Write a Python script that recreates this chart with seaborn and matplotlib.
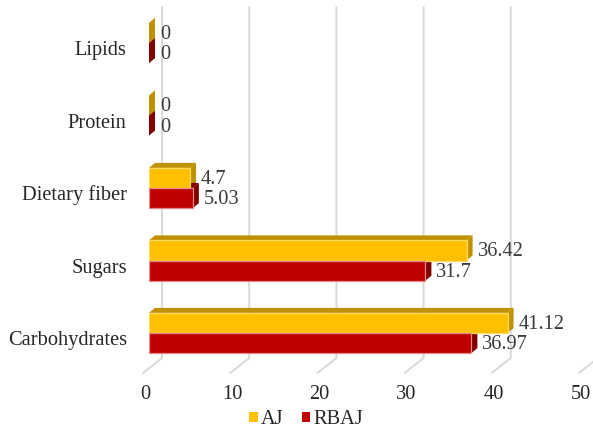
import matplotlib
matplotlib.use("Agg")
import matplotlib.pyplot as plt
import seaborn as sns
import pandas as pd
from matplotlib.colors import to_rgba
from matplotlib.lines import Line2D
from matplotlib.patches import Polygon, Patch
from matplotlib.transforms import IdentityTransform, ScaledTranslation

# Composition of the two juices
categories = ["Lipids", "Protein", "Dietary fiber", "Sugars", "Carbohydrates"]
aj_values = [0, 0, 4.7, 36.42, 41.12]
rbaj_values = [0, 0, 5.03, 31.7, 36.97]
series = ["AJ", "RBAJ"]
x_ticks = [0, 10, 20, 30, 40, 50]

front_colors = {"AJ": "#FFC000", "RBAJ": "#C00000"}
depth_colors = {"AJ": "#BF9000", "RBAJ": "#800000"}
edge_colors = {"AJ": "#FFD966", "RBAJ": "#E58A8A"}

df = pd.DataFrame({
    "Component": categories * 2,
    "Value": aj_values + rbaj_values,
    "Juice": [series[0]] * len(categories) + [series[1]] * len(categories),
})

sns.set_theme(style="white")
plt.rcParams["font.family"] = ["Liberation Serif", "DejaVu Serif"]
FS = 14.7

DPI = 100
W, H = 593, 430
fig = plt.figure(figsize=(W / DPI, H / DPI), dpi=DPI)
ax = fig.add_axes([149 / W, 1 - 369.25 / H, 436 / W, 362.5 / H])

sns.barplot(data=df, y="Component", x="Value", hue="Juice", order=categories,
            hue_order=series, palette=front_colors, width=0.555, orient="h",
            ax=ax, legend=False, zorder=3, saturation=1)

ax.set_xlim(x_ticks[0], x_ticks[-1])
ax.set_ylim(len(categories) - 0.5, -0.5)
sns.despine(ax=ax, left=True, bottom=True)
ax.grid(False)

# pixel depth of the 3-D extrusion
dx, dy = 6, 5
ident = IdentityTransform()


def series_of(patch):
    fc = patch.get_facecolor()
    for s in series:
        if all(abs(a - b) < 1e-3 for a, b in zip(fc, to_rgba(front_colors[s]))):
            return s
    return None


value_map = {s: dict(zip(categories, v)) for s, v in zip(series, [aj_values, rbaj_values])}

label_shift = ax.transData + ScaledTranslation((dx + 5) / DPI, -1.5 / DPI, fig.dpi_scale_trans)

for p in list(ax.patches):
    s = series_of(p)
    if s is None:
        continue
    x0, w, y0, h = p.get_x(), p.get_width(), p.get_y(), p.get_height()
    (ax0, ay0), (ax1, ay1) = ax.transData.transform([(x0, y0), (x0 + w, y0 + h)])
    L, R = min(ax0, ax1), max(ax0, ax1)
    B, T = min(ay0, ay1), max(ay0, ay1)
    top = Polygon([(L, T), (R, T), (R + dx, T + dy), (L + dx, T + dy)],
                  closed=True, transform=ident, facecolor=depth_colors[s],
                  edgecolor="none", zorder=2, clip_on=False)
    side = Polygon([(R, B), (R, T), (R + dx, T + dy), (R + dx, B + dy)],
                   closed=True, transform=ident, facecolor=depth_colors[s],
                   edgecolor="none", zorder=2, clip_on=False)
    ax.add_patch(top)
    ax.add_patch(side)
    if w > 0:
        p.set_edgecolor(edge_colors[s])
        p.set_linewidth(0.9)
    else:
        p.set_linewidth(0)
    cat = categories[int(round(y0 + h / 2 + (0.1 if s == series[0] else -0.1)))]
    val = value_map[s][cat]
    ax.text(x0 + w, y0 + h / 2, f"{val:g}", transform=label_shift,
            ha="left", va="center", fontsize=FS, color="#3A3A3A", zorder=4)

# back-wall gridlines with their floor segments
for v in x_ticks:
    X = ax.transData.transform((v, 0))[0]
    ax.add_line(Line2D([X + 13, X + 13, X - 6], [H - 7, H - 358, H - 373],
                       transform=ident, color="#D9D9D9", lw=1.4, zorder=1,
                       clip_on=False))

ax.set_xticks(x_ticks)
ax.set_xticklabels([str(t) for t in x_ticks])
ax.tick_params(axis="x", length=0, pad=11, labelsize=FS, labelcolor="#262626")
ax.tick_params(axis="y", length=0, pad=16, labelsize=FS, labelcolor="#262626")
ax.set_xlabel("")
ax.set_ylabel("")
for lab in ax.get_xticklabels():
    lab.set_transform(lab.get_transform() + ScaledTranslation(-4 / DPI, 0, fig.dpi_scale_trans))
for lab in ax.get_yticklabels():
    lab.set_transform(lab.get_transform() + ScaledTranslation(0, -5 / DPI, fig.dpi_scale_trans))

handles = [Patch(facecolor=front_colors[s], edgecolor="none", label=s) for s in series]
fig.legend(handles=handles, loc="center", bbox_to_anchor=(306 / W, 1 - 420 / H),
           ncol=2, frameon=False, fontsize=FS, handlelength=0.42, handleheight=0.42,
           handletextpad=0.15, columnspacing=0.9, labelcolor="#262626",
           borderpad=0, borderaxespad=0)

fig.savefig("out.png", dpi=DPI)
